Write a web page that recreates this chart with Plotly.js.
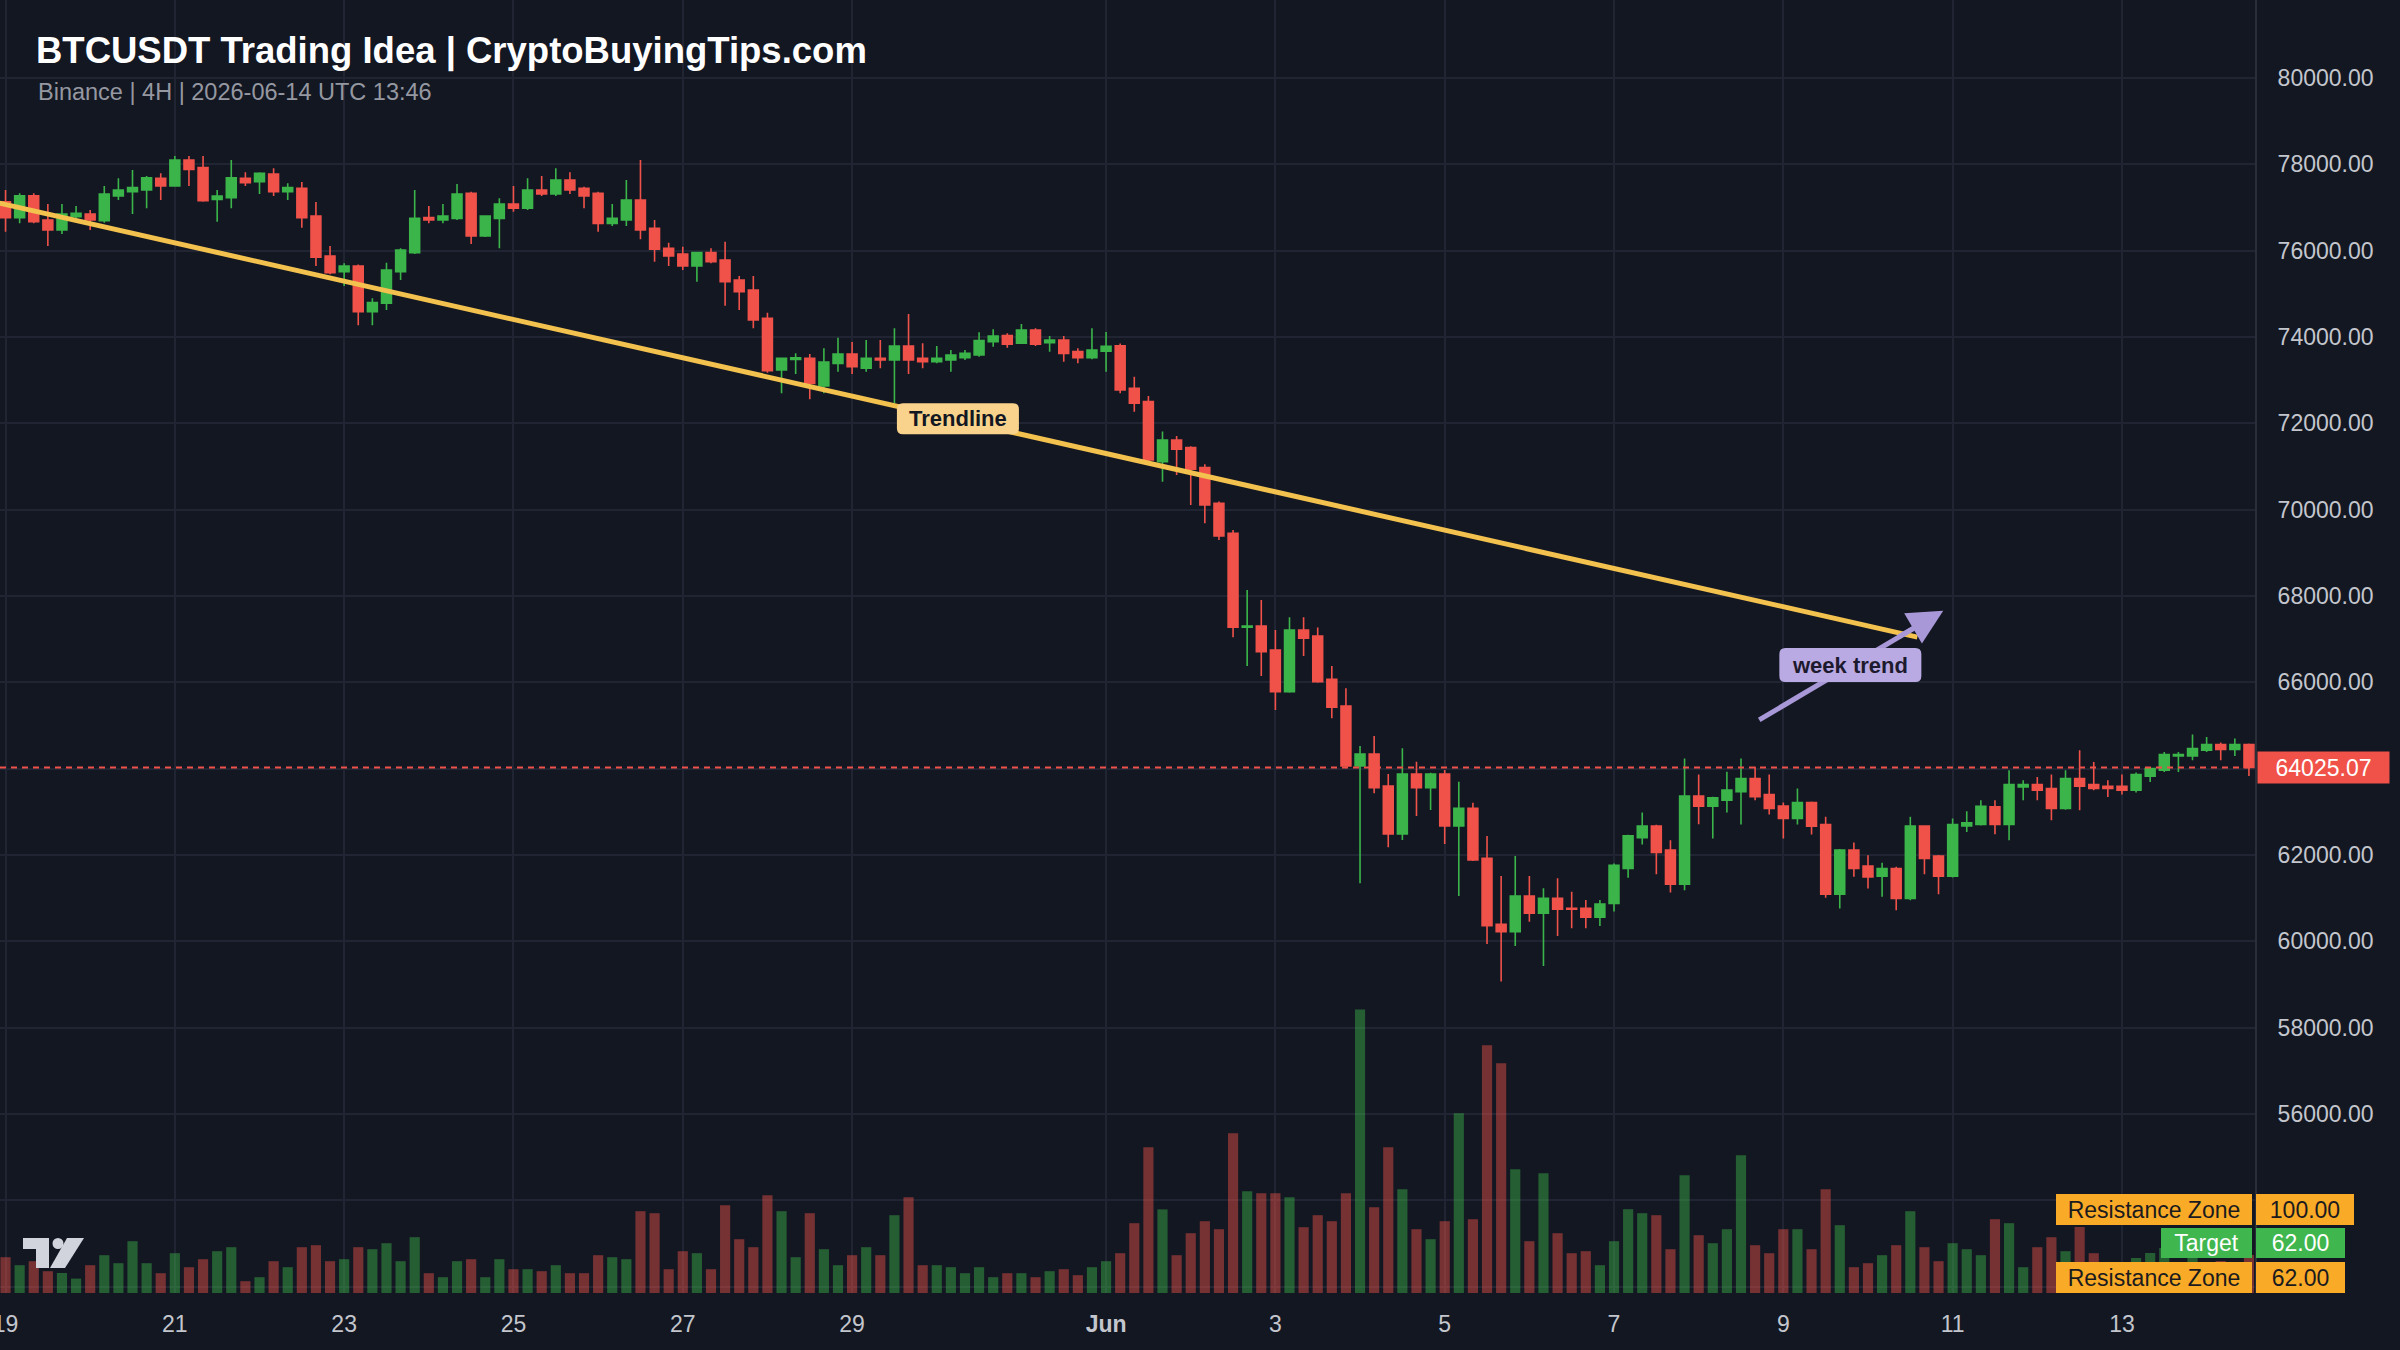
<!DOCTYPE html>
<html><head><meta charset="utf-8">
<script src="https://cdn.plot.ly/plotly-3.0.1.min.js"></script>
<style>html,body{margin:0;padding:0;background:#131722;overflow:hidden}#chart{width:2400px;height:1350px}</style>
</head><body><div id="chart"></div>
<script>
// ---- data ----
const firstCandle = '2026-05-19T00:00:00Z';   // first 4H candle open time
const candleHours = 4;
const open = [77137,76766,77276,76713,76481,76790,76852,76697,77269,77369,
77408,77678,77500,78103,77925,77191,77230,77678,77601,77778,
77369,77446,76805,75878,75516,75647,74589,74782,75515,75956,
76767,76713,76751,77330,76342,76751,77083,76983,77408,77315,
77639,77446,77330,76635,76713,77176,76520,76056,75925,75647,
75956,75786,75322,75091,74434,73237,73484,73507,72866,73391,
73608,73276,73507,73468,73793,73507,73430,73468,73523,73585,
73894,74033,73855,74164,73871,73932,73662,73523,73670,73795,
72812,72504,71113,71615,71438,70974,70148,69453,67275,67306,
66750,65785,67213,67074,66070,65452,64062,64340,63598,62486,
63876,63560,63876,62672,63082,61923,60394,60224,61050,60648,
60996,60764,60764,60556,60876,61686,62397,62667,62111,61323,
63362,63131,63270,63463,63772,63401,63131,62845,63215,62706,
61092,62111,61740,61509,61686,60991,62667,61972,61509,62673,
62704,63113,62704,63577,63631,63538,63075,63770,63631,63592,
63592,63500,63824,63963,64295,64295,64426,64558,64442,64558];
const high = [77408,77330,77330,77083,77083,77037,76944,77500,77678,77871,
77732,77794,78195,78195,78195,77408,78103,77817,77817,77910,
77562,77593,77130,76110,75709,75680,74897,75724,76060,77408,
77037,77083,77547,77369,76820,77215,77500,77678,77732,77910,
77817,77485,77369,77083,77639,78103,76713,76187,76095,75956,
76056,76211,75415,75415,74566,73507,73623,73608,73739,73986,
73886,73932,73932,74203,74535,73855,73793,73700,73700,74110,
74179,74087,74303,74203,74025,74025,73739,74203,74120,73850,
73083,72635,71809,71708,71470,71052,70187,69530,68140,67908,
67213,67507,67507,67268,66379,65862,64526,64757,63876,64471,
64162,63907,63969,63699,63212,62440,61513,61977,61513,61227,
61459,61150,60957,60957,61800,62470,62984,62700,62343,64235,
63864,63347,63926,64235,64042,63864,63215,63540,63240,62883,
62140,62289,61995,61818,61725,62884,62690,62000,62845,63013,
63268,63268,63963,63731,63809,63863,63963,64426,64156,63731,
63863,63909,64030,64388,64388,64789,64735,64604,64697,64580];
const low = [76442,76635,76635,76110,76388,76751,76481,76651,77176,76852,
76983,77176,77485,77500,77137,76674,76983,77500,77315,77269,
77176,76535,75647,75454,75184,74272,74272,74627,75322,75925,
76635,76635,76713,76156,76320,76056,76906,76944,77269,77269,
77315,76983,76442,76573,76573,76265,75747,75647,75554,75284,
75709,74728,74627,74202,73175,72697,73144,72558,72697,73198,
73144,73198,73276,72465,73144,73276,73391,73198,73468,73546,
73778,73755,73840,73793,73662,73430,73391,73484,73198,72700,
72272,71090,70650,70805,70110,69685,69298,67043,66379,66147,
65360,65760,66611,65990,65167,64008,61343,63428,62177,62347,
62904,63042,62254,61050,61860,59938,59065,59891,60455,59428,
60123,60301,60301,60355,60687,61470,62242,61555,61130,61184,
62714,62381,62984,62706,63270,62937,62381,62706,62474,61007,
60760,61493,61223,61030,60721,60953,61555,61092,61480,62534,
62680,62480,62341,63268,63268,62805,63050,63036,63500,63345,
63399,63446,63693,63924,63924,64195,64388,64195,64295,63832];
const close = [76766,77276,76674,76481,76852,76867,76713,77315,77408,77462,
77693,77500,78103,77886,77160,77269,77693,77578,77794,77369,
77462,76766,75848,75492,75647,74589,74797,75554,76017,76751,
76713,76805,77315,76342,76805,77083,76983,77408,77315,77639,
77408,77269,76635,76751,77176,76481,76033,75878,75647,75956,
75747,75284,75052,74395,73222,73507,73522,72928,73422,73608,
73314,73507,73468,73793,73468,73430,73507,73584,73623,73917,
74025,73832,74164,73832,73932,73623,73523,73700,73785,72774,
72465,71152,71615,71399,70936,70110,69391,67275,67306,66711,
65785,67213,67020,66016,65422,64062,64340,63560,62486,63876,
63560,63876,62672,63082,61884,60363,60224,61050,60648,60996,
60741,60741,60556,60865,61763,62443,62667,62057,61323,63362,
63131,63324,63501,63772,63347,63077,62845,63215,62667,61092,
62111,61686,61493,61686,60991,62667,61918,61509,62706,62743,
63129,62704,63631,63631,63500,63075,63770,63592,63538,63538,
63500,63863,64002,64326,64326,64465,64558,64442,64558,64025.07];
const volume = [1790,1390,1590,1090,1000,720,1390,1890,1490,2590,
1490,990,1990,1290,1690,2090,2290,590,790,1590,
1290,2290,2390,1590,1690,2290,2190,2490,1590,2790,
990,790,1590,1690,790,1690,1190,1190,1090,1390,
990,990,1890,1790,1690,4090,3990,1190,2090,1990,
1190,4390,2690,2290,4890,4090,1790,3990,2190,1390,
1890,2290,1890,3890,4790,1390,1390,1290,990,1290,
790,990,990,790,1090,1190,890,1290,1590,1990,
3490,7290,4180,1890,2990,3590,3190,7990,5090,4990,
4990,4790,3290,3890,3590,4990,14170,4290,7290,5190,
3190,2690,3590,8990,3690,12390,11490,6190,2590,5990,
2990,1990,2090,1390,2590,4190,3990,3890,2190,5890,
2890,2490,3190,6890,2390,1990,3190,3190,2190,5190,
3390,1290,1490,1890,2390,4090,2290,1590,2490,2190,
1890,3690,3490,1290,2290,2790,2090,3300,1990,1500,
1400,1750,2000,2250,1500,2100,1400,1600,1300,1900];
const dateTicks = ['2026-05-19','2026-05-21','2026-05-23','2026-05-25','2026-05-27','2026-05-29',
  '2026-06-01','2026-06-03','2026-06-05','2026-06-07','2026-06-09','2026-06-11','2026-06-13'];
const dateTickLabels = ['19','21','23','25','27','29','<b>Jun</b>','3','5','7','9','11','13'];
const priceTicks = [52000,54000,56000,58000,60000,62000,64000,66000,68000,70000,72000,74000,76000,78000,80000];
// labels hidden behind the level / last-price tags in the reference are left blank
const priceTickLabels = ['','','56000.00','58000.00','60000.00','62000.00','','66000.00','68000.00',
  '70000.00','72000.00','74000.00','76000.00','78000.00','80000.00'];
const lastPrice = 64025.07;
const trendStart = ['2026-05-18 20:00', 77144];
const trendEnd = ['2026-06-10 14:00', 67048];
const weekArrowTail = ['2026-06-08 17:10', 65130];
const weekArrowTip = ['2026-06-10 21:20', 67660];
const levelNames = ['Resistance Zone','Target','Resistance Zone'];
const levelValues = ['100.00','62.00','62.00'];

// ---- build ----
const t0 = Date.parse(firstCandle);
const times = open.map((_, i) => new Date(t0 + i * candleHours * 3600e3).toISOString().slice(0,16).replace('T',' '));
const UP = '#3bb54a', DN = '#f0524a';
const UPV = 'rgba(59,181,74,0.45)', DNV = 'rgba(240,82,74,0.45)';
const volColors = close.map((c, i) => c >= open[i] ? UPV : DNV);
const FONT = 'Liberation Sans, Arial, Helvetica, sans-serif';
const PW = 2255, PH = 1293;
const px = x => x / PW, py = y => 1 - y / PH;

function toMs(s){ return Date.parse(s.replace(' ','T') + ':00Z'); }
function fromMs(ms){ return new Date(ms).toISOString().slice(0,16).replace('T',' '); }

const traces = [
  {type:'candlestick', x:times, open:open, high:high, low:low, close:close,
   increasing:{line:{color:UP, width:1.6}, fillcolor:UP},
   decreasing:{line:{color:DN, width:1.6}, fillcolor:DN},
   whiskerwidth:0, hoverinfo:'skip', showlegend:false},
  {type:'bar', x:times, y:volume, yaxis:'y2', width:0.72*candleHours*3600e3,
   marker:{color:volColors, line:{width:0}}, hoverinfo:'skip', showlegend:false}
];

function roundRect(xa, ya, xref, yref, w, h, r, color){
  const a=w/2, b=h/2;
  const path = `M${-a+r},${-b} L${a-r},${-b} Q${a},${-b} ${a},${-b+r} L${a},${b-r} Q${a},${b} ${a-r},${b} L${-a+r},${b} Q${-a},${b} ${-a},${b-r} L${-a},${-b+r} Q${-a},${-b} ${-a+r},${-b} Z`;
  return {type:'path', xref:xref, yref:yref, xsizemode:'pixel', ysizemode:'pixel', xanchor:xa, yanchor:ya,
          path:path, fillcolor:color, line:{width:0}, layer:'above'};
}
function rectPx(x0,y0,x1,y1,color){
  return {type:'rect', xref:'paper', yref:'paper', x0:px(x0), x1:px(x1), y0:py(y0), y1:py(y1), fillcolor:color, line:{width:0}, layer:'above'};
}

// arrow shaft stops a little before the tip (arrowhead drawn by an annotation)
const tailMs = toMs(weekArrowTail[0]), tipMs = toMs(weekArrowTip[0]);
const shaftEnd = [fromMs(tailMs + 0.88*(tipMs - tailMs)), weekArrowTail[1] + 0.88*(weekArrowTip[1]-weekArrowTail[1])];

const trendLabelX = '2026-05-30 06:00', trendLabelY = 72110;
const weekLabelX = '2026-06-09 19:00', weekLabelY = 66400;

const LOGO = '#d1d4dc';
const ARROW = '#a898d8';
const shapes = [
  {type:'line', xref:'paper', x0:0, x1:1, yref:'y', y0:lastPrice, y1:lastPrice,
   line:{color:DN, width:2, dash:'6px,5px'}, layer:'above'},
  {type:'line', xref:'x', yref:'y', x0:trendStart[0], y0:trendStart[1], x1:trendEnd[0], y1:trendEnd[1],
   line:{color:'#f2c14e', width:5}, layer:'above'},
  {type:'line', xref:'x', yref:'y', x0:weekArrowTail[0], y0:weekArrowTail[1], x1:shaftEnd[0], y1:shaftEnd[1],
   line:{color:ARROW, width:5}, layer:'above'},
  roundRect(trendLabelX, trendLabelY, 'x', 'y', 122, 31, 6, '#f9d38c'),
  roundRect(weekLabelX, weekLabelY, 'x', 'y', 142, 34, 6, '#b9aae4'),
  // TradingView-style logo
  rectPx(23,1238,49,1249,LOGO),
  rectPx(36,1238,49,1268,LOGO),
  {type:'circle', xref:'paper', yref:'paper', x0:px(52.5), x1:px(63.5), y0:py(1238), y1:py(1249), fillcolor:LOGO, line:{width:0}, layer:'above'},
  {type:'path', xref:'paper', yref:'paper', layer:'above', fillcolor:LOGO, line:{width:0},
   path:`M${px(67)},${py(1238)} L${px(84)},${py(1238)} L${px(65)},${py(1268)} L${px(50)},${py(1268)} Z`}
];

function boxAnn(text, x0, y0, x1, y1, bg, color){
  return {xref:'paper', yref:'paper', x:px(x0), y:py(y0), xanchor:'left', yanchor:'top',
          width:x1-x0, height:y1-y0, bgcolor:bg, borderpad:0, borderwidth:0, showarrow:false,
          text:text, font:{family:FONT, size:23, color:color}, align:'center', valign:'middle'};
}
const ORANGE = '#f9aa26', GREEN = '#3fb64e', DARK = '#1b1b1f';
const annotations = [
  {xref:'paper', yref:'paper', x:px(36), y:py(92), xanchor:'left', yanchor:'middle', showarrow:false,
   text:'Binance | 4H | 2026-06-14 UTC 13:46', font:{family:FONT, size:23.5, color:'#9598a1'}},
  {xref:'x', yref:'y', x:trendLabelX, y:trendLabelY, showarrow:false, text:'<b>Trendline</b>',
   font:{family:FONT, size:22, color:'#131722'}},
  {xref:'x', yref:'y', x:weekLabelX, y:weekLabelY, showarrow:false, text:'<b>week trend</b>',
   font:{family:FONT, size:22, color:'#1d1a2e'}},
  {xref:'x', yref:'y', x:weekArrowTip[0], y:weekArrowTip[1], ax:-46, ay:27, text:'', showarrow:true,
   arrowhead:2, arrowsize:1.4, arrowwidth:5, arrowcolor:ARROW, standoff:0},
  {xref:'paper', yref:'y', x:px(2257), y:lastPrice, xanchor:'left', yanchor:'middle', width:131, height:31,
   bgcolor:DN, borderpad:0, showarrow:false, text:lastPrice.toFixed(2), font:{family:FONT, size:23, color:'#ffffff'}},
  boxAnn(levelNames[0], 2056, 1194, 2252, 1225, ORANGE, DARK),
  boxAnn(levelValues[0], 2256, 1194, 2354, 1225, ORANGE, DARK),
  boxAnn(levelNames[1], 2161, 1228, 2252, 1258, GREEN, '#ffffff'),
  boxAnn(levelValues[1], 2256, 1228, 2345, 1258, GREEN, '#ffffff'),
  boxAnn(levelNames[2], 2056, 1262, 2252, 1293, ORANGE, DARK),
  boxAnn(levelValues[2], 2256, 1262, 2345, 1293, ORANGE, DARK)
];

const GRID = '#212533', TICK = '#c3c6cd';
const layout = {
  width:2400, height:1350,
  margin:{l:0, r:145, t:0, b:57, pad:0},
  paper_bgcolor:'#131722', plot_bgcolor:'#131722',
  showlegend:false, hovermode:false, dragmode:false,
  boxgap:0, boxgroupgap:0.3,
  title:{text:'<b>BTCUSDT Trading Idea | CryptoBuyingTips.com</b>', xref:'container', yref:'container',
         x:36/2400, y:1-50/1350, xanchor:'left', yanchor:'middle',
         font:{family:FONT, size:36.5, color:'#ffffff'}},
  xaxis:{type:'date', range:['2026-05-18 22:26','2026-06-14 13:43'], tickvals:dateTicks, ticktext:dateTickLabels,
         tickfont:{family:FONT, size:23, color:TICK}, showgrid:true, gridcolor:GRID, gridwidth:2,
         zeroline:false, showline:false, ticks:'outside', ticklen:10, tickcolor:'rgba(0,0,0,0)',
         ticklabeloverflow:'allow', rangeslider:{visible:false}, fixedrange:true},
  yaxis:{side:'right', range:[51850, 81810], tickvals:priceTicks, ticktext:priceTickLabels,
         tickfont:{family:FONT, size:23, color:TICK}, showgrid:true, gridcolor:GRID, gridwidth:2,
         zeroline:false, showline:true, linecolor:'#2a2e39', linewidth:2,
         ticks:'outside', ticklen:16, tickcolor:'rgba(0,0,0,0)', fixedrange:true},
  yaxis2:{overlaying:'y', range:[0, 64650], visible:false, fixedrange:true},
  shapes:shapes, annotations:annotations
};
Plotly.newPlot('chart', traces, layout, {displayModeBar:false, staticPlot:true});
</script></body></html>
